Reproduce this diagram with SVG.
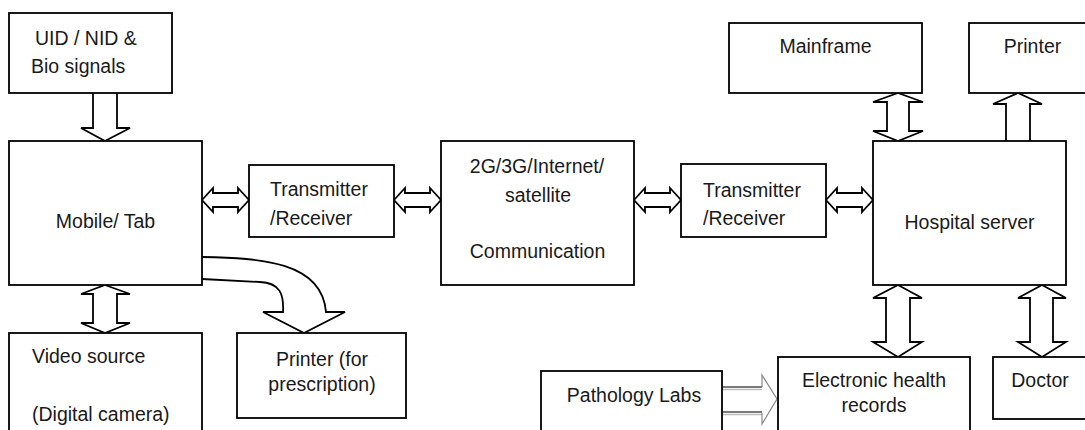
<svg xmlns="http://www.w3.org/2000/svg" width="1085" height="430" viewBox="0 0 1085 430">
  <style>
    .box { fill: #ffffff; stroke: #000000; stroke-width: 1.8; }
    .lbl { font-family: "Liberation Sans", Arial, sans-serif; font-size: 19.5px; fill: #1a1a1a; }
    .mid { text-anchor: middle; }
    .arw { fill: #ffffff; stroke: #000000; stroke-width: 1.8; stroke-linejoin: miter; }
    .gshaft { stroke: #7a7a7a; stroke-width: 2.2; fill: none; }
    .gshaft2 { stroke: #bdbdbd; stroke-width: 1.4; fill: none; }
    .ghead { stroke: #8a8a8a; stroke-width: 1.2; fill: none; }
  </style>

  <rect width="1085" height="430" fill="#ffffff"/>

  <!-- block arrows between the units -->
  <g id="connectors">
    <!-- ID / bio signals into the handset -->
    <path class="arw" d="M93,93 L93,128 L81,128 L105,141 L130,128 L117,128 L117,93"/>
    <!-- handset <-> video source -->
    <path class="arw" d="M105,285 L130,294 L117,294 L117,323 L130,323 L105,333 L81,323 L93,323 L93,294 L81,294 Z"/>
    <!-- handset to prescription printer (bent arrow) -->
    <path class="arw" d="M202,257 C262,258 322,262 326,312 L345,312 L304,333 L263,312 L283,312 C284,294 280,283 260,282 L202,279"/>
    <!-- horizontal two-way links on the main chain -->
    <path class="arw" d="M202,200 L213,188 L213,193 L238,193 L238,188 L249,200 L238,212 L238,207 L213,207 L213,212 Z"/>
    <path class="arw" d="M394,200 L405,188 L405,193 L430,193 L430,188 L441,200 L430,212 L430,207 L405,207 L405,212 Z"/>
    <path class="arw" d="M634,200 L645,188 L645,193 L670,193 L670,188 L681,200 L670,212 L670,207 L645,207 L645,212 Z"/>
    <path class="arw" d="M826,200 L837,188 L837,193 L862,193 L862,188 L873,200 L862,212 L862,207 L837,207 L837,212 Z"/>
    <!-- mainframe <-> hospital server -->
    <path class="arw" d="M898,93 L923,102 L909,102 L909,131 L923,131 L898,141 L873,131 L887,131 L887,102 L873,102 Z"/>
    <!-- hospital server to printer -->
    <path class="arw" d="M1006,141 L1006,104 L993,104 L1018,93 L1042,104 L1030,104 L1030,141"/>
    <!-- hospital server <-> health records -->
    <path class="arw" d="M898,285 L922,298 L910,298 L910,342 L922,342 L898,357 L873,342 L886,342 L886,298 L873,298 Z"/>
    <!-- hospital server <-> doctor -->
    <path class="arw" d="M1042,285 L1066,298 L1053,298 L1053,342 L1066,342 L1042,357 L1018,342 L1030,342 L1030,298 L1018,298 Z"/>
    <!-- pathology labs into health records (grey) -->
    <line class="gshaft" x1="722" y1="387" x2="762" y2="387"/>
    <line class="gshaft2" x1="722" y1="389.5" x2="762" y2="389.5"/>
    <line class="gshaft" x1="722" y1="412" x2="762" y2="412"/>
    <line class="gshaft2" x1="722" y1="414.5" x2="762" y2="414.5"/>
    <polyline class="ghead" points="762,387 762,375 777,399 762,424 762,413"/>
  </g>

  <g id="uid-bio">
    <rect class="box" x="9" y="13" width="163" height="80"/>
    <text class="lbl" x="35" y="45">UID / NID &amp;</text>
    <text class="lbl" x="31" y="73">Bio signals</text>
  </g>

  <g id="mobile-tab">
    <rect class="box" x="9" y="141" width="193" height="144"/>
    <text class="lbl mid" x="105.5" y="228">Mobile/ Tab</text>
  </g>

  <g id="video-source">
    <rect class="box" x="9" y="333" width="193" height="110"/>
    <text class="lbl" x="32" y="363">Video source</text>
    <text class="lbl" x="32" y="421">(Digital camera)</text>
  </g>

  <g id="printer-prescription">
    <rect class="box" x="237" y="333" width="169" height="85"/>
    <text class="lbl mid" x="322" y="366">Printer (for</text>
    <text class="lbl mid" x="322" y="391">prescription)</text>
  </g>

  <g id="transmitter-1">
    <rect class="box" x="249" y="165" width="145" height="72"/>
    <text class="lbl" x="270" y="196">Transmitter</text>
    <text class="lbl" x="270" y="225">/Receiver</text>
  </g>

  <g id="communication">
    <rect class="box" x="441" y="141" width="193" height="144"/>
    <text class="lbl mid" x="537" y="173">2G/3G/Internet/</text>
    <text class="lbl mid" x="538" y="202">satellite</text>
    <text class="lbl mid" x="537.5" y="258">Communication</text>
  </g>

  <g id="transmitter-2">
    <rect class="box" x="681" y="164" width="145" height="73"/>
    <text class="lbl" x="703" y="197">Transmitter</text>
    <text class="lbl" x="703" y="225">/Receiver</text>
  </g>

  <g id="hospital-server">
    <rect class="box" x="873" y="141" width="193" height="144"/>
    <text class="lbl mid" x="969.5" y="229">Hospital server</text>
  </g>

  <g id="mainframe">
    <rect class="box" x="729" y="23" width="193" height="70"/>
    <text class="lbl mid" x="825.5" y="53">Mainframe</text>
  </g>

  <g id="printer">
    <rect class="box" x="969" y="23" width="140" height="70"/>
    <text class="lbl mid" x="1032.5" y="53">Printer</text>
  </g>

  <g id="pathology-labs">
    <rect class="box" x="541" y="371" width="181" height="80"/>
    <text class="lbl mid" x="634" y="402">Pathology Labs</text>
  </g>

  <g id="health-records">
    <rect class="box" x="778" y="357" width="192" height="90"/>
    <text class="lbl mid" x="874" y="387">Electronic health</text>
    <text class="lbl mid" x="874" y="412">records</text>
  </g>

  <g id="doctor">
    <rect class="box" x="993" y="357" width="120" height="62"/>
    <text class="lbl mid" x="1040" y="387">Doctor</text>
  </g>
</svg>
